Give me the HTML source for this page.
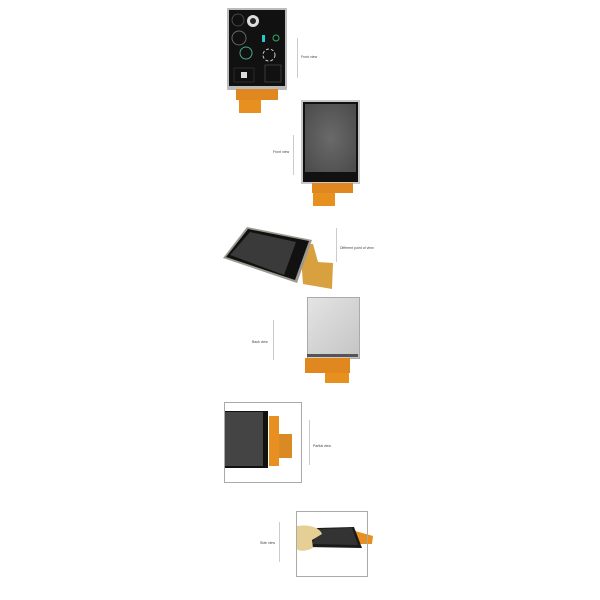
<!DOCTYPE html>
<html><head><style>
body{margin:0;background:#fff;width:600px;height:600px;position:relative;overflow:hidden;font-family:"Liberation Sans",sans-serif}
.a{position:absolute}
.t{position:absolute;font-size:3.5px;color:#444;white-space:nowrap}
.l{position:absolute;width:1px;background:#ccc}
</style></head><body>
<!-- image 1 -->
<div class="a" style="left:227px;top:8px;width:60px;height:82px;background:#bbb;border-radius:1px"></div>
<div class="a" style="left:229px;top:10px;width:56px;height:76px;background:#111"></div>
<svg class="a" style="left:229px;top:10px" width="56" height="76">
<circle cx="9" cy="10" r="6" fill="none" stroke="#555" stroke-width="0.8"/>
<circle cx="24" cy="11" r="6" fill="#ddd"/><circle cx="24" cy="11" r="3" fill="#222"/>
<circle cx="10" cy="28" r="7" fill="none" stroke="#666"/>
<circle cx="17" cy="43" r="6" fill="none" stroke="#4a8"/>
<rect x="33" y="25" width="3" height="7" fill="#2cc"/><circle cx="47" cy="28" r="3" fill="none" stroke="#3a6"/>
<circle cx="40" cy="45" r="6" fill="none" stroke="#ccc" stroke-dasharray="3 2"/>
<rect x="5" y="58" width="20" height="14" fill="none" stroke="#444" stroke-width="0.5"/>
<rect x="12" y="62" width="6" height="6" fill="#ddd"/>
<rect x="36" y="55" width="16" height="17" fill="none" stroke="#555" stroke-width="0.6"/>
</svg>
<div class="a" style="left:236px;top:89px;width:42px;height:11px;background:#e0881f"></div>
<div class="a" style="left:239px;top:100px;width:22px;height:13px;background:#e8901f"></div>
<div class="l" style="left:297px;top:38px;height:40px"></div>
<div class="t" style="left:301px;top:55px">Front view</div>
<!-- image 2 -->
<div class="a" style="left:301px;top:100px;width:59px;height:84px;background:#c8c8c8"></div>
<div class="a" style="left:303px;top:102px;width:55px;height:80px;background:#111"></div>
<div class="a" style="left:305px;top:104px;width:51px;height:68px;background:radial-gradient(#6a6a6a,#4a4a4a)"></div>
<div class="a" style="left:312px;top:183px;width:41px;height:10px;background:#e0881f"></div>
<div class="a" style="left:313px;top:193px;width:22px;height:13px;background:#e8901f"></div>
<div class="l" style="left:293px;top:135px;height:40px"></div>
<div class="t" style="left:273px;top:150px">Front view</div>
<svg class="a" style="left:0;top:0" width="600" height="600">
<!-- image 3 -->
<polygon points="300,244 313,244 318,262 333,263 332,289 303,284" fill="#d9a040"/>
<polygon points="223,258 247,227 312,240 297,283" fill="#9a9a90"/>
<polygon points="226,257 248,229 309,241 295,280" fill="#111"/>
<polygon points="230,255 250,232 296,242 284,275" fill="#3a3a3a"/>
<!-- image 6 -->
<polygon points="355,531 373,536 372,544 357,544" fill="#e8901f"/>
<polygon points="317,528 354,527 362,548 307,547" fill="#1a1a1a"/>
<polygon points="319,529 352,528 358,545 312,544" fill="#333"/>
<path d="M297,526 C310,524 320,528 322,534 L312,540 L313,548 C305,552 298,551 297,549 Z" fill="#e6cf95"/>
</svg>
<div class="l" style="left:336px;top:228px;height:34px"></div>
<div class="t" style="left:340px;top:246px">Different point of view</div>
<!-- image 4 -->
<div class="a" style="left:307px;top:297px;width:51px;height:60px;background:linear-gradient(135deg,#e4e4e4,#c4c4c4);border:1px solid #aaa"></div>
<div class="a" style="left:307px;top:354px;width:51px;height:3px;background:#555"></div>
<div class="a" style="left:305px;top:358px;width:45px;height:15px;background:#e0881f"></div>
<div class="a" style="left:325px;top:373px;width:24px;height:10px;background:#e8901f"></div>
<div class="l" style="left:273px;top:320px;height:40px"></div>
<div class="t" style="left:252px;top:340px">Back view</div>
<!-- image 5 -->
<div class="a" style="left:224px;top:402px;width:78px;height:81px;border:1px solid #aaa;box-sizing:border-box"></div>
<div class="a" style="left:225px;top:411px;width:43px;height:57px;background:#111"></div>
<div class="a" style="left:225px;top:412px;width:38px;height:54px;background:#444"></div>
<div class="a" style="left:269px;top:416px;width:10px;height:50px;background:#e8901f"></div>
<div class="a" style="left:279px;top:434px;width:13px;height:24px;background:#d98a25"></div>
<div class="l" style="left:309px;top:420px;height:45px"></div>
<div class="t" style="left:313px;top:444px">Partial view</div>
<!-- image 6 box -->
<div class="a" style="left:296px;top:511px;width:72px;height:66px;border:1px solid #aaa;box-sizing:border-box"></div>
<div class="l" style="left:279px;top:522px;height:40px"></div>
<div class="t" style="left:260px;top:541px">Side view</div>
</body></html>
